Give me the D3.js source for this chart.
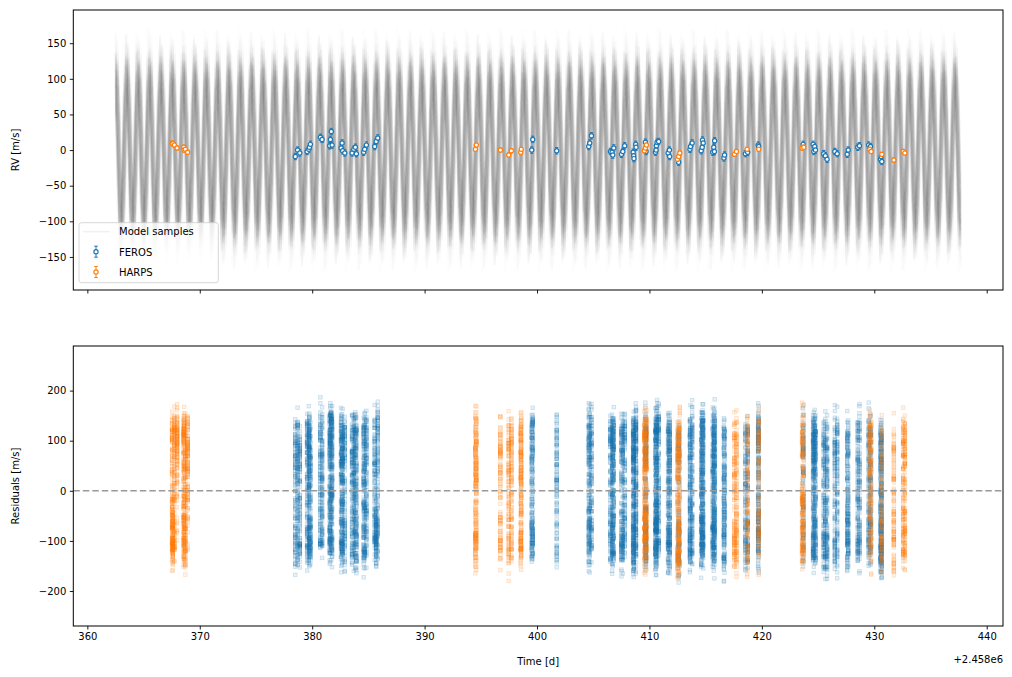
<!DOCTYPE html>
<html><head><meta charset="utf-8">
<script src="https://cdn.jsdelivr.net/npm/d3@7"></script>
<style>
body{margin:0;background:#fff}
text{font-family:"DejaVu Sans",sans-serif;fill:#000}
</style>
</head><body>
<svg id="c" width="1012" height="677"></svg>
<script>
// ---------- data ----------
const ferosT = [378.5,378.7,378.9,379.55,379.7,379.75,379.84,380.73,380.88,381.56,381.62,381.7,381.77,382.57,382.66,382.71,382.9,383.55,383.7,383.84,383.93,384.58,384.67,384.82,385.56,385.69,385.83,
 399.53,399.62,401.75,404.6,404.69,404.84,406.53,406.68,406.74,406.83,407.51,407.63,407.8,408.55,408.6,408.62,408.78,408.81,409.64,409.7,
 410.53,410.59,410.62,410.68,410.82,411.66,411.78,411.8,412.6,413.6,413.65,413.8,414.6,414.69,414.72,414.78,415.63,415.72,415.78,415.8,416.62,416.68,
 418.54,418.74,419.67,419.72,423.67,424.56,424.62,424.7,424.77,425.5,425.65,425.8,426.49,426.7,427.59,427.68,428.53,428.68,429.5,429.66,430.55,430.61,430.67];
const ferosRV = [-9,0,-4,-2,1,4,8,18,15,6,15,26,7,3,10,-1,-4,-4,1,4,-5,-3,1,7,5,12,17,
 0,15,-1,5,10,20,-2,-3,-7,3,-6,-2,6,-3,-8,-12,8,4,11,-2,
 -3,0,6,11,12,-4,0,-9,-17,1,5,10,-1,4,14,10,-3,4,-2,13,-11,-7,
 -5,-3,7,5,8,8,-2,5,0,-5,-8,-13,-2,-5,-6,0,4,6,7,5,-13,-9,-16];
const harpsT = [367.54,367.6,367.74,367.98,368.57,368.6,368.72,368.92,394.52,394.6,396.74,397.48,397.72,398.55,398.6,
 409.55,409.64,409.73,412.5,412.6,412.7,417.56,417.74,418.69,419.72,423.58,423.73,429.6,429.72,430.67,431.74,432.57,432.72];
const harpsRV = [10,9,7,3,4,0,1,-3,1,7,0,-7,-1,-3,1,
 -1,3,7,-13,-9,-4,-6,-2,1,1,3,4,1,-2,-6,-14,-2,-4];
const ferosErr = [4.5];
const harpsErr = [3];

// posterior model samples (semi-amplitude, phase offset, alias order)
const sampleK = [118,132,104,145,126,97,139,121,158,112,128,135,109,149,124,117,163,130,101,142,
 127,115,136,170,122,108,133,146,119,126,154,113,138,125,99,143,131,120,166,111,
 129,137,123,150,116,106,141,127,134,160,121,114,147,129,102,139,118,155,125,133,
 88,72,94,110,152,81,123,137,65,144,98,119,173,85,131,107,58,140,92,126,
 76,148,113,135,69,157,103,128,84,121,143,96,116,168,79,134,105,124,91,139];
const samplePhase = [0.31,-0.78,0.13,0.95,-0.31,0.69,-1.11,0.48,-0.13,0.83,-0.56,0.20,1.04,-0.91,0.38,-0.22,0.73,-0.69,0.06,1.16,
 -0.41,0.56,-1.01,0.28,-0.07,0.88,-0.48,0.63,-1.20,0.18,0.78,-0.32,0.45,-0.85,1.08,-0.18,0.60,-0.63,0.35,-1.06,
 0.10,0.94,-0.45,0.53,-0.76,0.22,0.98,-0.28,0.70,-0.95,0.03,0.81,-0.53,0.41,-1.16,0.32,0.66,-0.15,0.85,-0.60,
 0.50,-0.84,0.15,1.12,-0.38,0.76,-0.98,0.25,-0.03,0.91,-0.66,0.43,1.23,-0.81,0.08,-0.50,1.01,-0.21,0.57,-1.12,
 0.38,-0.73,0.21,0.87,-0.35,0.64,-1.04,0.14,-0.10,0.74,-0.43,1.09,-0.90,0.29,-0.27,0.80,-0.57,0.49,-1.23,0.17];
const sampleAlias = [-3,2,-5,3,1,-2,5,-3,4,-1,3,-4,2,6,-3,3,-1,2,-6,1,
 4,-1,-3,2,5,-2,3,-4,2,-5,1,-2,6,2,-1,-3,4,3,-2,2,
 -6,1,-3,5,-2,3,1,-4,2,-3,3,-2,1,-5,4,3,-3,1,-2,6,
 7,-7,5,-4,2,-6,3,-1,6,-5,4,-2,7,-3,1,-7,5,-6,2,-4,
 3,-1,6,-5,7,-2,4,-3,1,-7,5,-4,2,-6,3,-1,7,-5,4,-2];
const modelPeriod = [1.009], modelEpoch = [362.53], modelSpan = [362.51, 437.69], modelGridN = [400];

const xTicks = [360,370,380,390,400,410,420,430,440];
const rvTicks = [-150,-100,-50,0,50,100,150];
const resTicks = [-200,-100,0,100,200];

// ---------- layout ----------
const C0 = "#1f77b4", C1 = "#ff7f0e";
const svg = d3.select("#c");
const L = 73.3, R = 1003;
const x = d3.scaleLinear([358.75, 441.45], [L, R]);
const yTop = d3.scaleLinear([-196.4, 196.6], [290, 10]);
const yBot = d3.scaleLinear([-269.8, 289], [626, 346]);

const dt = (modelSpan[1]-modelSpan[0])/(modelGridN[0]-1);
function model(s, t){
  return sampleK[s]*Math.cos(2*Math.PI*(t-modelEpoch[0])/modelPeriod[0] + samplePhase[s]
      + 2*Math.PI*sampleAlias[s]*(t-modelSpan[0])/dt);
}
const grid = d3.range(modelGridN[0]).map(k => modelSpan[0] + k*dt);

const defs = svg.append("defs");
defs.append("clipPath").attr("id","clipT").append("rect").attr("x",L).attr("y",10).attr("width",R-L).attr("height",280);
defs.append("clipPath").attr("id","clipB").append("rect").attr("x",L).attr("y",346).attr("width",R-L).attr("height",280);

// ---------- top panel ----------
const gT = svg.append("g").attr("clip-path","url(#clipT)");
const line = d3.line();
sampleK.forEach((k, s) => {
  gT.append("path")
    .attr("d", line(grid.map(t => [x(t), yTop(model(s,t))])))
    .attr("fill","none").attr("stroke","#808080").attr("stroke-opacity",0.017).attr("stroke-width",2);
});

function drawInst(ts, rvs, err, col){
  const g = gT.append("g");
  ts.forEach((t,i) => {
    const cx = x(t), y0 = yTop(rvs[i]-err), y1 = yTop(rvs[i]+err);
    g.append("line").attr("x1",cx).attr("x2",cx).attr("y1",y0).attr("y2",y1).attr("stroke",col).attr("stroke-width",1);
    g.append("line").attr("x1",cx-1.6).attr("x2",cx+1.6).attr("y1",y0).attr("y2",y0).attr("stroke",col).attr("stroke-width",1);
    g.append("line").attr("x1",cx-1.6).attr("x2",cx+1.6).attr("y1",y1).attr("y2",y1).attr("stroke",col).attr("stroke-width",1);
  });
  ts.forEach((t,i) => {
    g.append("circle").attr("cx",x(t)).attr("cy",yTop(rvs[i])).attr("r",2.1)
      .attr("fill","#fff").attr("stroke",col).attr("stroke-width",1.2);
  });
}
drawInst(ferosT, ferosRV, ferosErr[0], C0);
drawInst(harpsT, harpsRV, harpsErr[0], C1);

// ---------- bottom panel ----------
const gB = svg.append("g").attr("clip-path","url(#clipB)");
function drawRes(ts, rvs, col){
  const g = gB.append("g");
  ts.forEach((t,i) => {
    sampleK.forEach((k,s) => {
      const r = rvs[i] - model(s,t);
      g.append("rect").attr("x",x(t)-1.8).attr("y",yBot(r)-1.8).attr("width",3.6).attr("height",3.6)
        .attr("fill",col).attr("fill-opacity",0.1).attr("stroke",col).attr("stroke-opacity",0.2).attr("stroke-width",0.8);
    });
  });
}
drawRes(ferosT, ferosRV, C0);
drawRes(harpsT, harpsRV, C1);
gB.append("line").attr("x1",L).attr("x2",R).attr("y1",yBot(0)).attr("y2",yBot(0))
  .attr("stroke","#999").attr("stroke-width",1.5).attr("stroke-dasharray","6.5,3");

// ---------- axes ----------
function styleAxis(g){
  g.select(".domain").remove();
  g.selectAll(".tick line").attr("stroke","#000").attr("stroke-width",0.9);
  g.selectAll(".tick text").attr("font-size","10px").attr("font-family","DejaVu Sans");
}
svg.append("g").attr("transform","translate(0,290)")
  .call(d3.axisBottom(x).tickValues(xTicks).tickSize(3.5).tickFormat("")).call(styleAxis);
svg.append("g").attr("transform",`translate(${L},0)`)
  .call(d3.axisLeft(yTop).tickValues(rvTicks).tickSize(3.5).tickPadding(3.5)).call(styleAxis);
svg.append("g").attr("transform","translate(0,626)")
  .call(d3.axisBottom(x).tickValues(xTicks).tickSize(3.5).tickPadding(3.5).tickFormat(d3.format("d"))).call(styleAxis);
svg.append("g").attr("transform",`translate(${L},0)`)
  .call(d3.axisLeft(yBot).tickValues(resTicks).tickSize(3.5).tickPadding(3.5)).call(styleAxis);

[[10,290],[346,626]].forEach(([a,b]) => {
  svg.append("rect").attr("x",L).attr("y",a).attr("width",R-L).attr("height",b-a)
    .attr("fill","none").attr("stroke","#000").attr("stroke-width",1);
});

// labels
svg.append("text").attr("transform","translate(19,150) rotate(-90)").attr("text-anchor","middle").attr("font-size","10px").text("RV [m/s]");
svg.append("text").attr("transform","translate(19,486) rotate(-90)").attr("text-anchor","middle").attr("font-size","10px").text("Residuals [m/s]");
svg.append("text").attr("x",(L+R)/2).attr("y",665).attr("text-anchor","middle").attr("font-size","10px").text("Time [d]");
svg.append("text").attr("x",R).attr("y",663).attr("text-anchor","end").attr("font-size","10px").text("+2.458e6");

// legend
const lg = svg.append("g");
lg.append("rect").attr("x",79).attr("y",222.7).attr("width",139.3).attr("height",60).attr("rx",2.5)
  .attr("fill","#fff").attr("fill-opacity",0.8).attr("stroke","#ccc").attr("stroke-width",0.8);
lg.append("line").attr("x1",83).attr("x2",110).attr("y1",231.7).attr("y2",231.7)
  .attr("stroke","#808080").attr("stroke-opacity",0.12).attr("stroke-width",1.5);
[["FEROS",C0,251.7],["HARPS",C1,272]].forEach(([n,c,yy]) => {
  lg.append("line").attr("x1",96).attr("x2",96).attr("y1",yy-5.5).attr("y2",yy+5.5).attr("stroke",c).attr("stroke-width",1);
  lg.append("line").attr("x1",94.2).attr("x2",97.8).attr("y1",yy-5.5).attr("y2",yy-5.5).attr("stroke",c).attr("stroke-width",1);
  lg.append("line").attr("x1",94.2).attr("x2",97.8).attr("y1",yy+5.5).attr("y2",yy+5.5).attr("stroke",c).attr("stroke-width",1);
  lg.append("circle").attr("cx",96).attr("cy",yy).attr("r",2.1).attr("fill","#fff").attr("stroke",c).attr("stroke-width",1.2);
});
[["Model samples",235.3],["FEROS",255.6],["HARPS",275.8]].forEach(([t,yy]) => {
  lg.append("text").attr("x",119).attr("y",yy).attr("font-size","10px").text(t);
});
</script>
</body></html>
